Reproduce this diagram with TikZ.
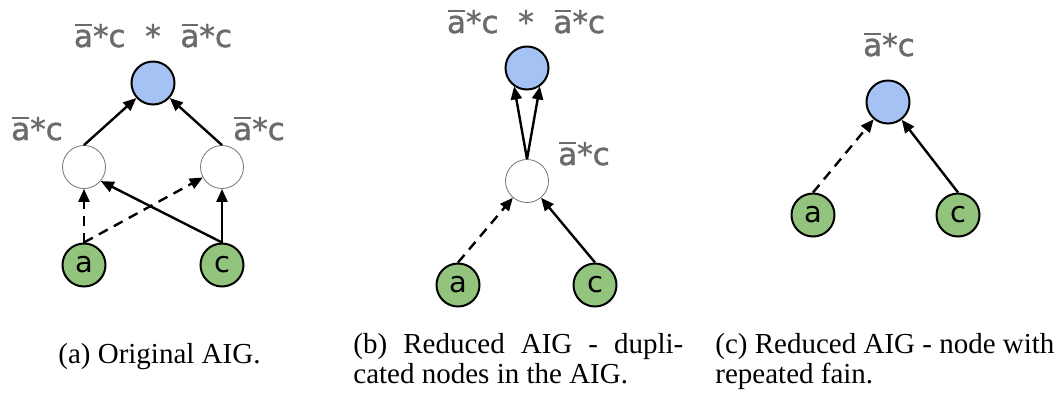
\documentclass[tikz,border=0pt]{standalone}
\usepackage{fontspec}
\setmainfont{Liberation Serif}
\newfontfamily\labelfont{DejaVu Sans}[FakeBold=1.3]
\newfontfamily\letterfont{DejaVu Sans}
\usetikzlibrary{arrows.meta}
\definecolor{andfill}{HTML}{A4C2F4}
\definecolor{infill}{HTML}{93C47D}
\definecolor{labelgray}{HTML}{6B6B6B}
% complemented literal: letter with a full-width bar above it
\newcommand\negbar[1]{\leavevmode\setbox0\hbox{#1}%
  \rlap{\hspace{0.04em}\rule[0.67em]{\dimexpr\wd0-0.08em\relax}{0.07em}}\box0}
\newcommand\andlbl{\negbar{a}*c}
\tikzset{
  gnode/.style={circle, draw=black, line width=1pt, minimum size=21.5pt, inner sep=0pt,
                font=\letterfont\fontsize{14.5pt}{16pt}\selectfont},
  outnode/.style={gnode, fill=andfill},
  innode/.style={gnode, fill=infill},
  midnode/.style={gnode, fill=white, draw=black!55, line width=0.4pt},
  fnlabel/.style={anchor=base, inner sep=0pt, text=labelgray,
                  font=\labelfont\fontsize{15.5pt}{17pt}\selectfont},
  wire/.style={line width=1.2pt, -{Triangle[length=6.5pt,width=5.5pt]}},
  negwire/.style={wire, dash pattern=on 5pt off 3.5pt},
  caption/.style={anchor=base west, inner sep=0pt, font=\fontsize{14.5pt}{15pt}\selectfont}
}
\begin{document}
\begin{tikzpicture}[x=0.5pt, y=-0.5pt]
\useasboundingbox (0,0) rectangle (1064,397);

% ---------- (a) original AIG ----------
\node[outnode] (aout) at (153,83) {};
\node[midnode] (ag1) at (84,167) {};
\node[midnode] (ag2) at (222,167) {};
\node[innode] (ain) at (84,265) {a};
\node[innode] (cin) at (222,265) {c};
\node[fnlabel] (aoutl) at (153,47) {\andlbl\ \ *\ \ \andlbl};
\node[fnlabel] (ag1l) at (37,140) {\andlbl};
\node[fnlabel] (ag2l) at (259,140) {\andlbl};
\draw[wire] (ag1.north) -- (aout);
\draw[wire] (ag2.north) -- (aout);
\draw[negwire] (ain.north) -- (ag1);
\draw[negwire] (ain.north) -- (ag2);
\draw[wire] (cin.north) -- (ag1.-40);
\draw[wire] (cin.north) -- (ag2);

% ---------- (b) duplicated nodes merged ----------
\node[outnode] (bout) at (527,68) {};
\node[midnode] (bg) at (527,181) {};
\node[innode] (bain) at (458,285) {a};
\node[innode] (bcin) at (595,285) {c};
\node[fnlabel] (boutl) at (526,33) {\andlbl\ \ *\ \ \andlbl};
\node[fnlabel] (bgl) at (584,165) {\andlbl};
\draw[wire] (bg.north) -- (bout.235);
\draw[wire] (bg.north) -- (bout.305);
\draw[negwire] (bain.north) -- (bg);
\draw[wire] (bcin.north) -- (bg);

% ---------- (c) node with repeated fanin ----------
\node[outnode] (cout) at (888,102) {};
\node[innode] (cain) at (813,215) {a};
\node[innode] (ccin) at (958,215) {c};
\node[fnlabel] (coutl) at (889,56) {\andlbl};
\draw[negwire] (cain.north) -- (cout);
\draw[wire] (ccin.north) -- (cout);

% ---------- captions ----------
\node[caption] (capa) at (58,363) {(a) Original AIG.};
\node[caption] (capb1) at (353,353) {\makebox[165pt][s]{(b) Reduced AIG - dupli-}};
\node[caption] (capb2) at (353,383) {cated nodes in the AIG.};
\node[caption] (capc1) at (715,353) {(c) Reduced AIG - node with};
\node[caption] (capc2) at (715,383) {repeated fain.};
\end{tikzpicture}
\end{document}
